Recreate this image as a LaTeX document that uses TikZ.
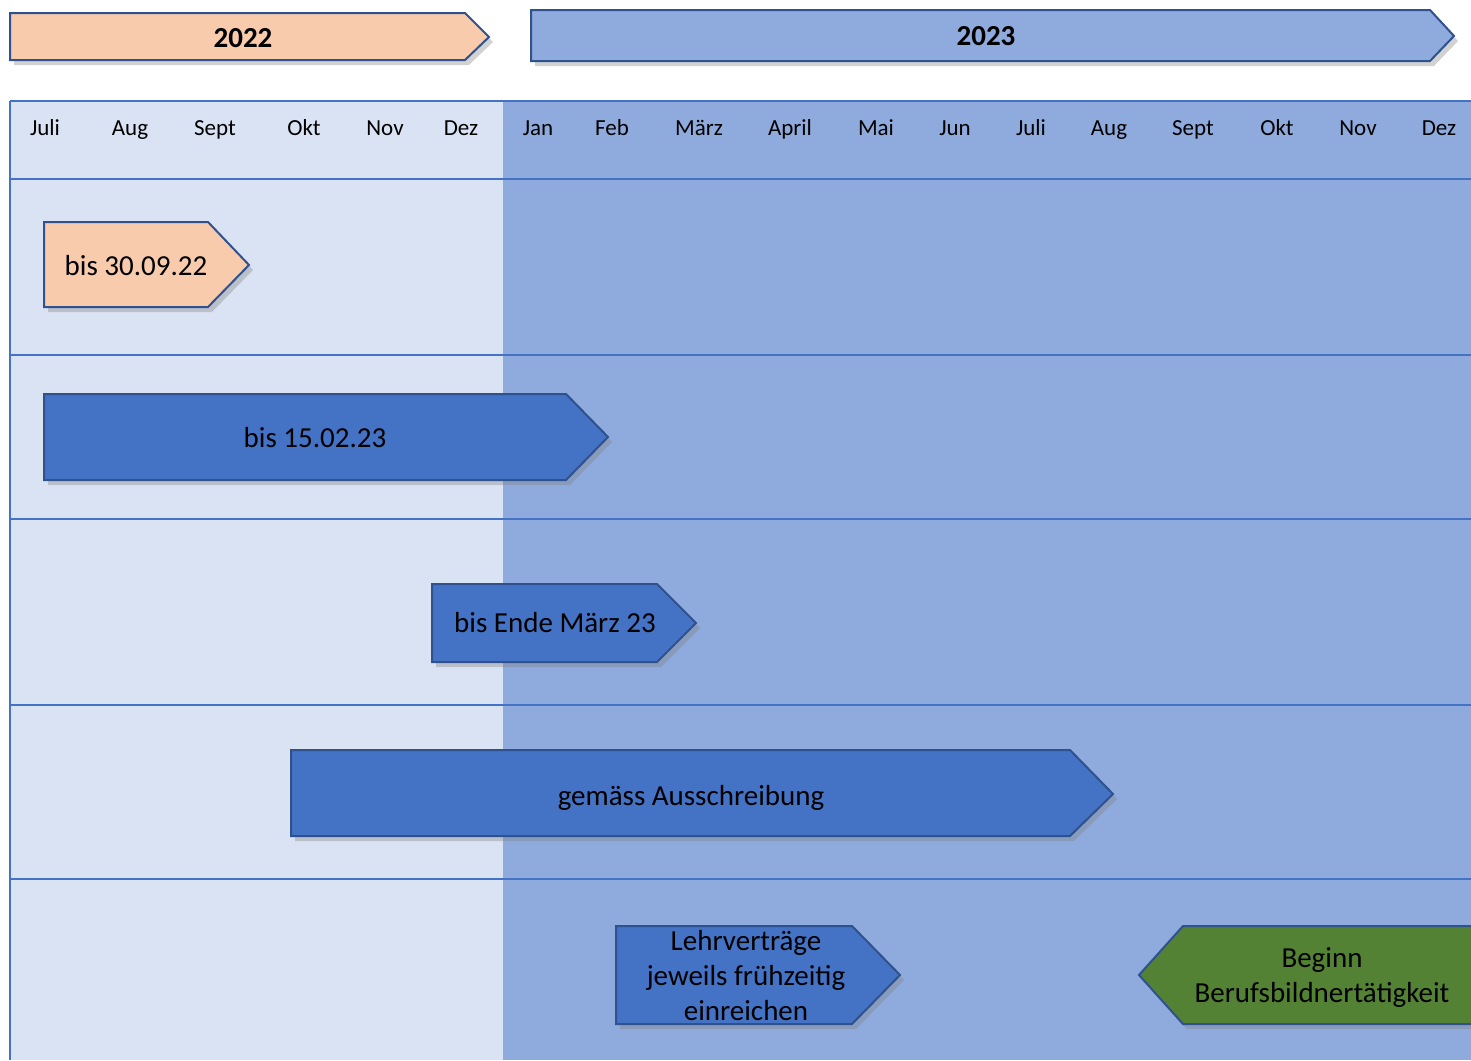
\documentclass[tikz,border=0pt]{standalone}
\usepackage{fontspec}
\setmainfont{Carlito}
\usetikzlibrary{shadows}

\definecolor{peach}{HTML}{F8CBAD}
\definecolor{paleblue}{HTML}{DAE3F3}
\definecolor{midblue}{HTML}{8FAADC}
\definecolor{barblue}{HTML}{4472C4}
\definecolor{edgeblue}{HTML}{2F528F}
\definecolor{leafgreen}{HTML}{548235}

\begin{document}
\begin{tikzpicture}[
  x=0.5pt, y=-0.5pt,
  every node/.style={inner sep=0pt, anchor=base, font=\fontsize{14.5}{17.5}\selectfont},
  bar/.style={draw=edgeblue, line width=1pt, drop shadow={shadow xshift=2pt, shadow yshift=-2.5pt, opacity=0.35}},
  peachbar/.style={bar, fill=peach},
  bluebar/.style={bar, fill=barblue},
  greenbar/.style={bar, fill=leafgreen},
  year/.style={font=\fontsize{14.5}{17.5}\selectfont\bfseries},
  month/.style={font=\fontsize{11.5}{14}\selectfont},
  grid/.style={draw=barblue, line width=1pt}
]
\clip (0,0) rectangle (1471,1060);
\fill[white] (0,0) rectangle (1471,1060);

% years
\path[peachbar] (10,13) -- (465,13) -- (489,37) -- (465,60) -- (10,60) -- cycle;
\node[year] (y2022) at (243,47) {2022};
\path[bluebar, fill=midblue] (531,10) -- (1430,10) -- (1454,36) -- (1430,61) -- (531,61) -- cycle;
\node[year] (y2023) at (986,46) {2023};

% table
\fill[paleblue] (10,101) rectangle (503,1060);
\fill[midblue] (503,101) rectangle (1471,1060);
\foreach \y in {101,179,355,519,705,879}
  \draw[grid] (10,\y) -- (1471,\y);
\draw[grid] (10,101) -- (10,1060);

% months
\foreach \m/\x [count=\i] in {Juli/45, Aug/130, Sept/215, Okt/304, Nov/385, Dez/461,
    Jan/538, Feb/612, März/699, April/790, Mai/876, Jun/955,
    Juli/1031, Aug/1109, Sept/1193, Okt/1277, Nov/1358, Dez/1439}
  \node[month] (m\i) at (\x,135) {\m};

% deadlines
\path[peachbar] (44,222) -- (208,222) -- (249,265) -- (208,307) -- (44,307) -- cycle;
\node (sep) at (136,275) {bis 30.09.22};

\path[bluebar] (44,394) -- (566,394) -- (608,437) -- (566,480) -- (44,480) -- cycle;
\node (feb) at (315,447) {bis 15.02.23};

\path[bluebar] (432,584) -- (657,584) -- (696,623) -- (657,662) -- (432,662) -- cycle;
\node (mar) at (555,632) {bis Ende März 23};

\path[bluebar] (291,750) -- (1070,750) -- (1113,794) -- (1070,836) -- (291,836) -- cycle;
\node (aus) at (691,805) {gemäss Ausschreibung};

\path[bluebar] (616,926) -- (852,926) -- (900,975) -- (852,1024) -- (616,1024) -- cycle;
\node[align=center] (lv) at (746,1020) {Lehrverträge\\jeweils frühzeitig\\einreichen};

\path[greenbar] (1139,975) -- (1183,926) -- (1490,926) -- (1490,1024) -- (1183,1024) -- cycle;
\node[align=center] (start) at (1322,1002) {Beginn\\Berufsbildnertätigkeit};
\end{tikzpicture}
\end{document}
